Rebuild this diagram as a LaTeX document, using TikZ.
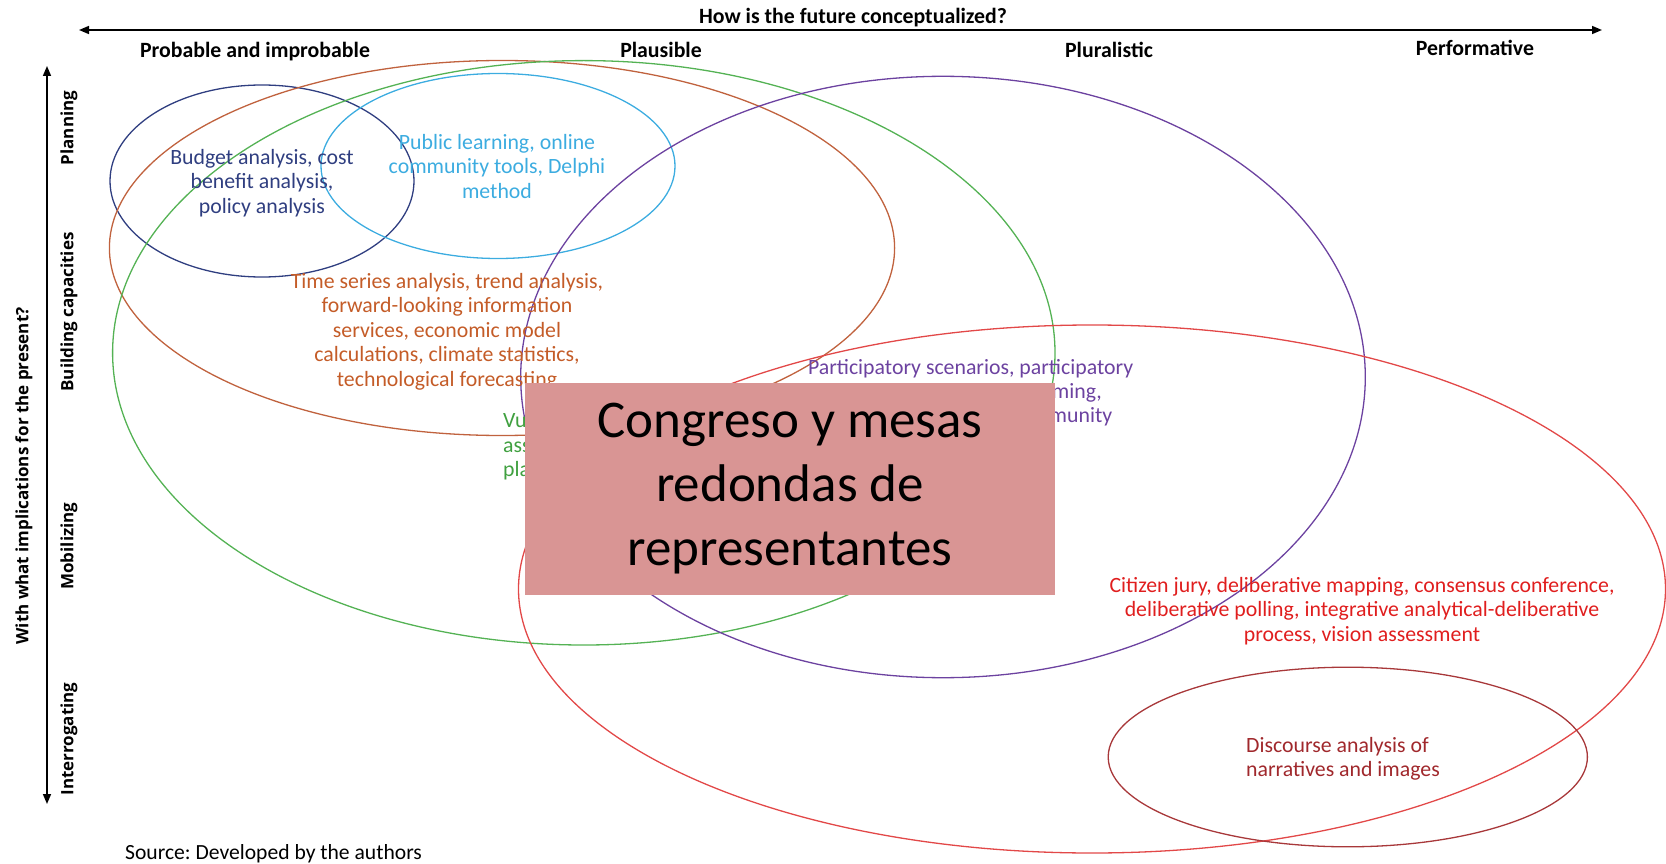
\documentclass[tikz,border=0pt]{standalone}
\usepackage{fontspec}
\setmainfont{Carlito}
\newfontfamily\axisfont{Open Sans}
\usepackage{xcolor}
\usetikzlibrary{arrows.meta,positioning}
\frenchspacing

\definecolor{budgetblue}{RGB}{47,62,128}
\definecolor{publicblue}{RGB}{60,172,224}
\definecolor{trendbrown}{RGB}{192,98,62}
\definecolor{trendtext}{RGB}{196,92,40}
\definecolor{vulngreen}{RGB}{84,178,84}
\definecolor{vulntext}{RGB}{64,160,64}
\definecolor{partpurple}{RGB}{108,66,160}
\definecolor{citizenred}{RGB}{226,72,72}
\definecolor{citizentext}{RGB}{224,30,30}
\definecolor{discoursered}{RGB}{168,56,58}
\definecolor{discoursetext}{RGB}{160,40,44}
\definecolor{boxpink}{RGB}{217,149,148}

\begin{document}
\begin{tikzpicture}[x=1pt,y=-1pt,
    axisline/.style={line width=1.6pt, {Triangle[length=10pt,width=8pt]}-{Triangle[length=10pt,width=8pt]}},
    ellipseline/.style={line width=1.3pt},
    method/.style={font=\fontsize{21.8}{24.5}\selectfont, align=center, inner sep=0pt},
    colhead/.style={font=\bfseries\fontsize{21.8}{24}\selectfont, inner sep=0pt, text height=15pt, text depth=5pt},
    rowhead/.style={font=\axisfont\bfseries\fontsize{17}{20}\selectfont, rotate=90, inner sep=0pt}
]
    \useasboundingbox (0,0) rectangle (1666,864);

    % axes
    \coordinate (xleft) at (79,30);
    \coordinate (xright) at (1602,30);
    \coordinate (ytop) at (47,66);
    \coordinate (ybottom) at (47,804);
    \draw[axisline] (xleft) -- (xright);
    \draw[axisline] (ytop) -- (ybottom);

    \node[colhead] (xtitle) at (853,18.5) {How is the future conceptualized?};
    \node[rowhead] (ytitle) at (24,476) {With what implications for the present?};

    \node[colhead] (probable) at (255,52.4) {Probable and improbable};
    \node[colhead] (plausible) at (661,52.4) {Plausible};
    \node[colhead] (pluralistic) at (1109,52.4) {Pluralistic};
    \node[colhead] (performative) at (1475,50.4) {Performative};

    \node[rowhead] (planning) at (69,128) {Planning};
    \node[rowhead] (building) at (69,312) {Building capacities};
    \node[rowhead] (mobilizing) at (69,546) {Mobilizing};
    \node[rowhead] (interrogating) at (69,739) {Interrogating};

    % ellipses
    \draw[
        ellipseline,
        color=budgetblue
    ] (262,181) ellipse (152 and 96);

    \draw[
        ellipseline,
        color=publicblue
    ] (498,166) ellipse (177 and 92.5);

    \draw[
        ellipseline,
        color=trendbrown
    ] (502,248) ellipse (392.6 and 187.5);

    \draw[
        ellipseline,
        color=vulngreen
    ] (583.8,352.8) ellipse (471.2 and 292.2);

    \draw[
        ellipseline,
        color=partpurple
    ] (943,377) ellipse (422.3 and 300.7);

    \draw[
        ellipseline,
        color=citizenred
    ] (1092,589) ellipse (573.5 and 264);

    \draw[
        ellipseline,
        color=discoursered
    ] (1347.8,757) ellipse (239.6 and 89.8);

    % methods
    \node[method, text=budgetblue] (budget) at (262,183) {Budget analysis, cost\\benefit analysis,\\policy analysis};
    \node[method, text=publicblue] (public) at (497,166.5) {Public learning, online\\community tools, Delphi\\method};
    \node[method, text=trendtext] (trend) at (447,331.5) {Time series analysis, trend analysis,\\forward-looking information\\services, economic model\\calculations, climate statistics,\\technological forecasting};
    \node[method, text=vulntext, align=left, anchor=west] (vuln) at (503,447) {Vu\\ass\\pla};
    \node[method, text=partpurple] (part) at (970.6,369) {Participatory scenarios, participatory};
    \node[method, text=partpurple, anchor=east] (part2) at (1102,393) {ming,};
    \node[method, text=partpurple, anchor=east] (part3) at (1112.4,417) {munity};
    \node[method, text=citizentext] (citizen) at (1362,611) {Citizen jury, deliberative mapping, consensus conference,\\deliberative polling, integrative analytical-deliberative\\process, vision assessment};
    \node[method, text=discoursetext, align=left, anchor=west] (discourse) at (1246,759) {Discourse analysis of\\narratives and images};

    % overlay
    \node[
        fill=boxpink,
        minimum width=530pt,
        minimum height=212.5pt,
        align=center,
        font=\fontsize{53}{64}\selectfont
    ] (congreso) at (790,488.8) {Congreso y mesas\\redondas de\\representantes};

    \node[font=\fontsize{21.6}{24}\selectfont, anchor=west, inner sep=0pt] (source) at (125,854) {Source: Developed by the authors};
\end{tikzpicture}
\end{document}
